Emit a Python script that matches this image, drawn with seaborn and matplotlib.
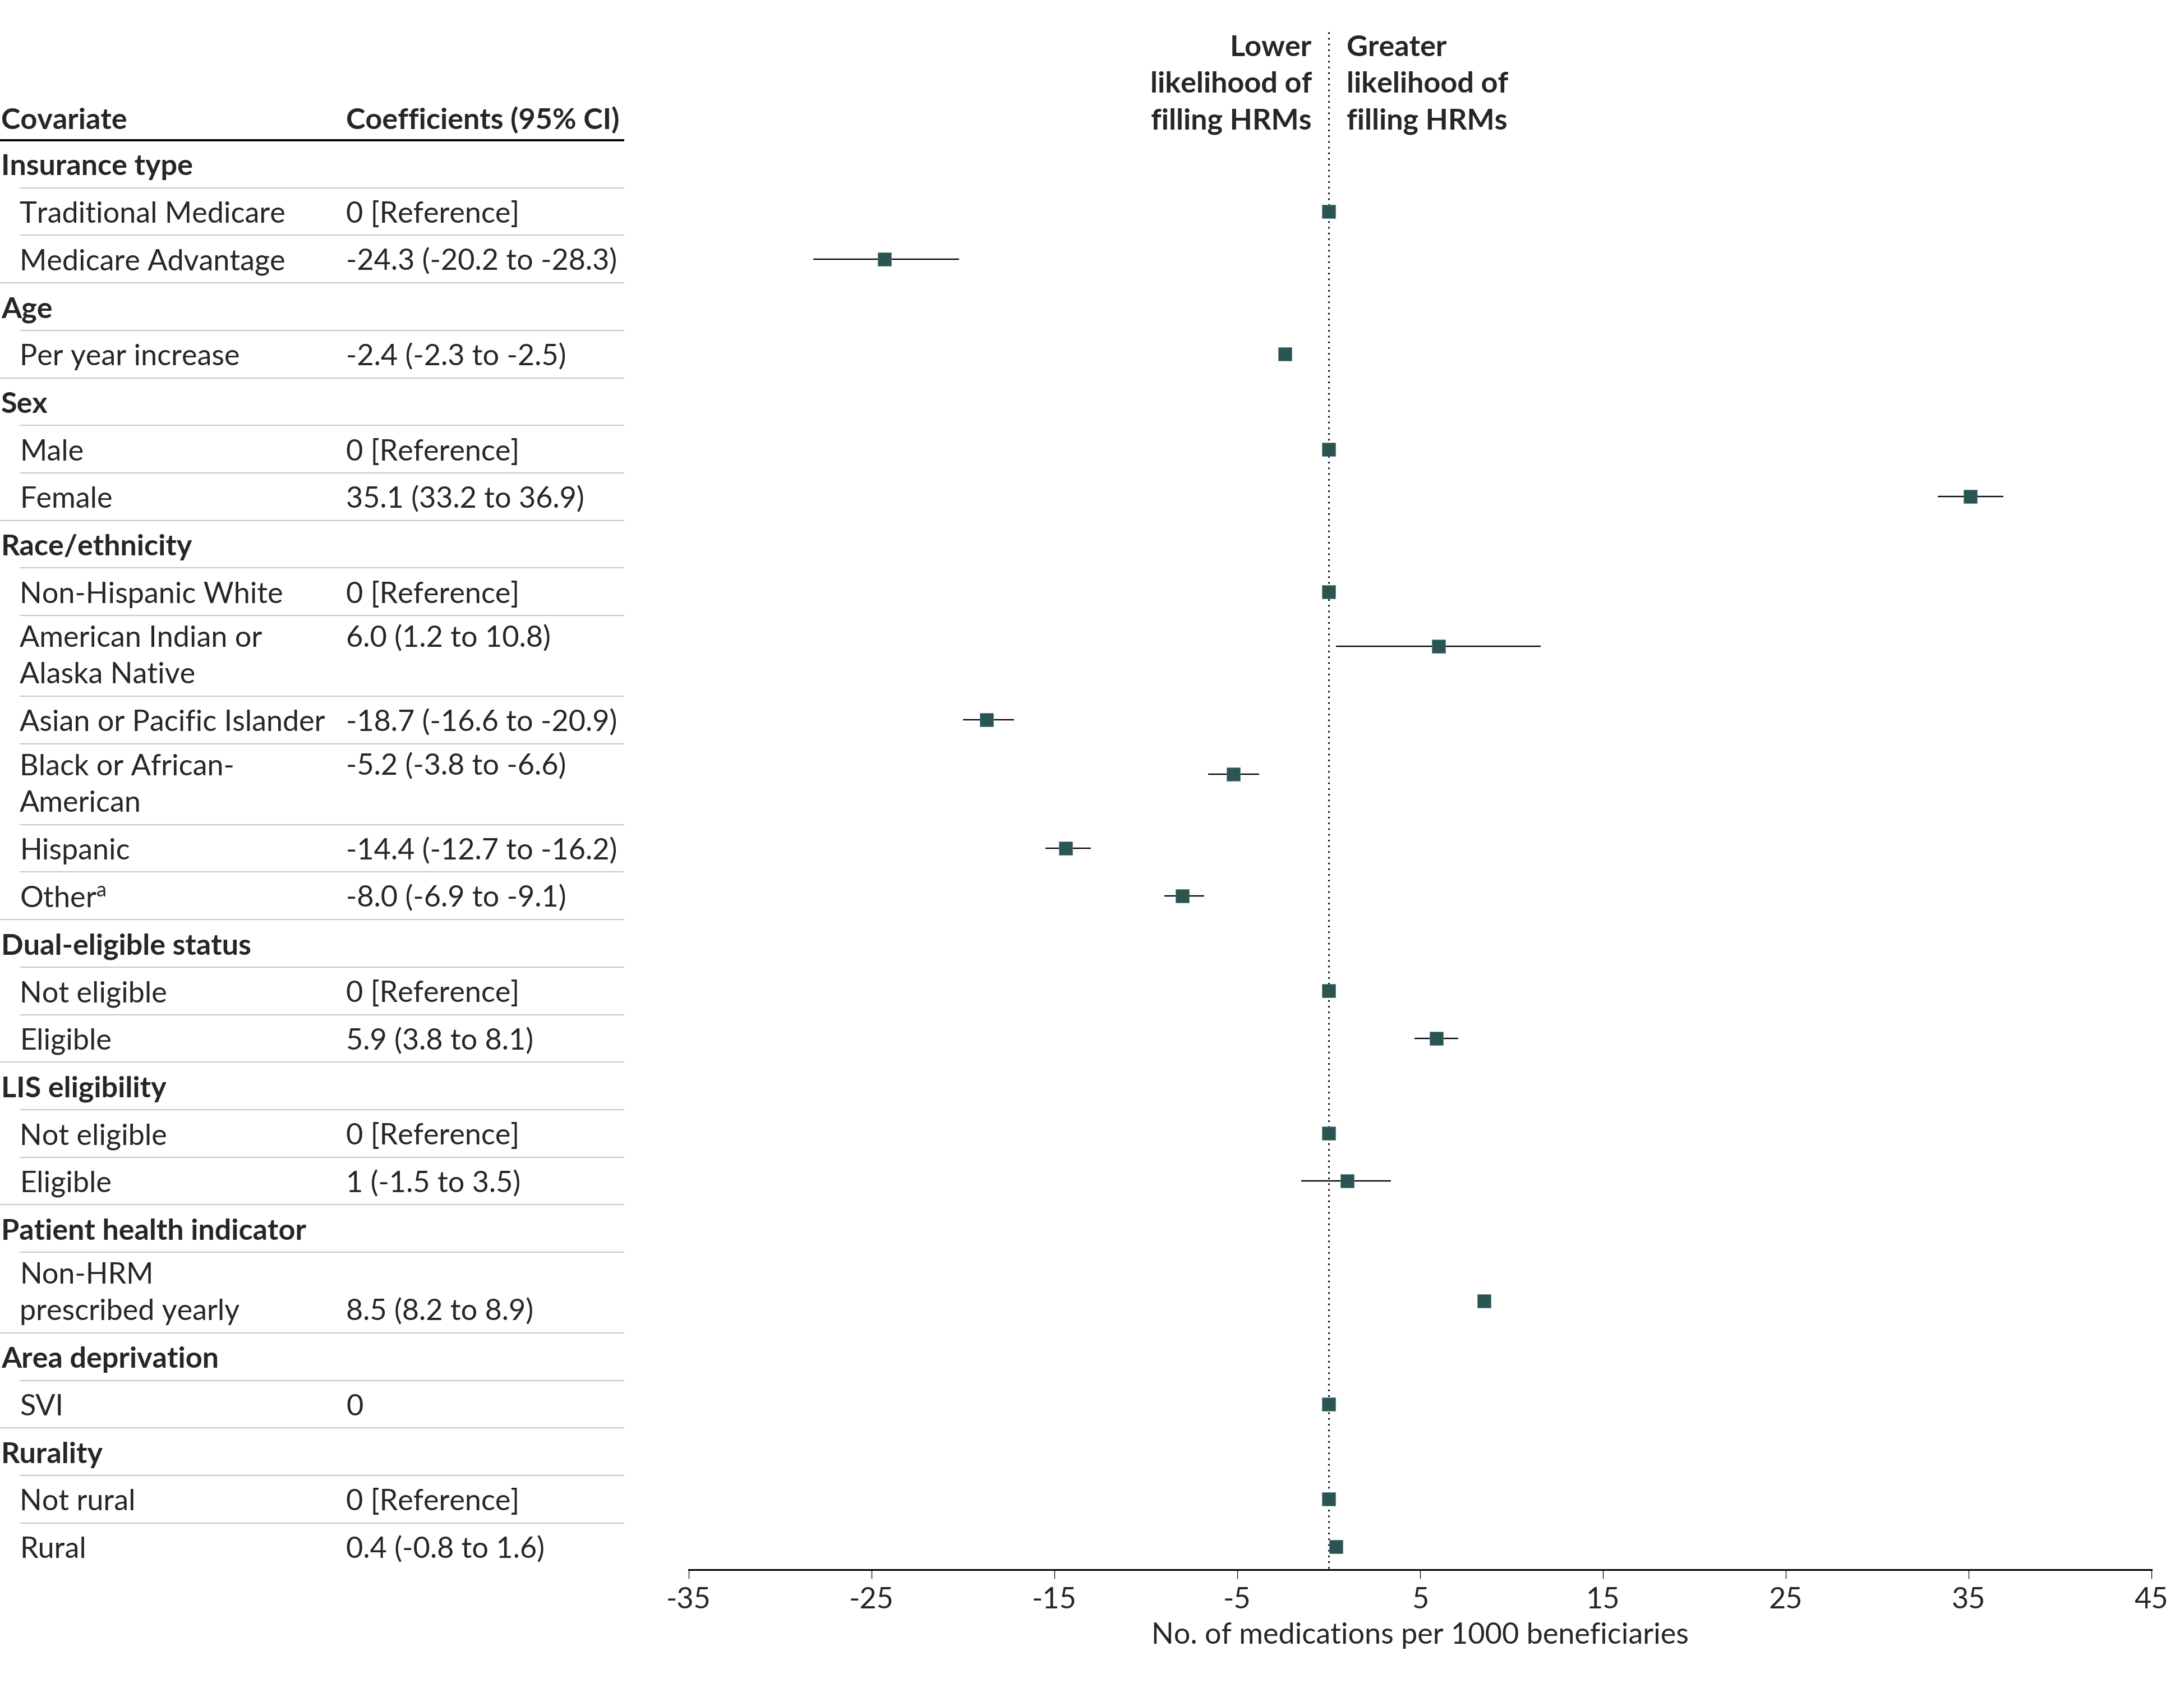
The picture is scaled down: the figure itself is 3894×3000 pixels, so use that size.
import numpy as np
import pandas as pd
import matplotlib
matplotlib.use("Agg")
import matplotlib.pyplot as plt
import seaborn as sns

# =============================================================================
# Data
# =============================================================================

labels = [
    "Insurance type", "Traditional Medicare", "Medicare Advantage",
    "Age", "Per year increase",
    "Sex", "Male", "Female",
    "Race/ethnicity", "Non-Hispanic White", "American Indian or\nAlaska Native",
    "Asian or Pacific Islander", "Black or African-\nAmerican", "Hispanic",
    "Other$^{\\mathrm{a}}$",
    "Dual-eligible status", "Not eligible", "Eligible",
    "LIS eligibility", "Not eligible", "Eligible",
    "Patient health indicator", "Non-HRM\nprescribed yearly",
    "Area deprivation", "SVI",
    "Rurality", "Not rural", "Rural",
]
is_heading = [
    True, False, False,
    True, False,
    True, False, False,
    True, False, False, False, False, False, False,
    True, False, False,
    True, False, False,
    True, False,
    True, False,
    True, False, False,
]
coef_text = [
    "", "0 [Reference]", "-24.3 (-20.2 to -28.3)",
    "", "-2.4 (-2.3 to -2.5)",
    "", "0 [Reference]", "35.1 (33.2 to 36.9)",
    "", "0 [Reference]", "6.0 (1.2 to 10.8)", "-18.7 (-16.6 to -20.9)",
    "-5.2 (-3.8 to -6.6)", "-14.4 (-12.7 to -16.2)", "-8.0 (-6.9 to -9.1)",
    "", "0 [Reference]", "5.9 (3.8 to 8.1)",
    "", "0 [Reference]", "1 (-1.5 to 3.5)",
    "", "8.5 (8.2 to 8.9)",
    "", "0",
    "", "0 [Reference]", "0.4 (-0.8 to 1.6)",
]
# which line of a two-line label carries the coefficient text
coef_line = [0] * len(labels)
coef_line[22] = 1

nan = np.nan
# point estimates and interval ends as drawn in the plot
estimate = [nan, 0, -24.3, nan, -2.4, nan, 0, 35.1, nan, 0, 6.0, -18.7, -5.2, -14.4, -8.0,
            nan, 0, 5.9, nan, 0, 1.0, nan, 8.5, nan, 0, nan, 0, 0.4]
ci_low = [nan, 0, -28.2, nan, -2.5, nan, 0, 33.3, nan, 0, 0.4, -20.0, -6.6, -15.5, -9.0,
          nan, 0, 4.7, nan, 0, -1.5, nan, 8.2, nan, 0, nan, 0, 0.3]
ci_high = [nan, 0, -20.2, nan, -2.3, nan, 0, 36.9, nan, 0, 11.6, -17.2, -3.8, -13.0, -6.8,
           nan, 0, 7.1, nan, 0, 3.4, nan, 8.8, nan, 0, nan, 0, 0.5]

x_ticks = [-35, -25, -15, -5, 5, 15, 25, 35, 45]
x_label = "No. of medications per 1000 beneficiaries"
left_note = ["Lower", "likelihood of", "filling HRMs"]
right_note = ["Greater", "likelihood of", "filling HRMs"]

# =============================================================================
# Style
# =============================================================================

sns.set_theme(style="white")
plt.rcParams["font.family"] = ["Lato", "DejaVu Sans"]
plt.rcParams["mathtext.fontset"] = "custom"
plt.rcParams["mathtext.rm"] = "Lato"
plt.rcParams["mathtext.it"] = "Lato:italic"
plt.rcParams["mathtext.bf"] = "Lato:bold"
plt.rcParams["axes.unicode_minus"] = False

FS = 37.5
MARK = "#2b5552"
SEP = "#c7cdbb"

# layout in pixels measured from the top of the figure
W, H = 3894, 3000
AX_L, AX_R, AX_B = 1228, 3836, 2798
RULE_Y = 250
ROW_1, ROW_2 = 84.7, 144.0
TABLE_R = 1113
COEF_X = 617

fig = plt.figure(figsize=(W / 100, H / 100), dpi=100)
ax = fig.add_axes([AX_L / W, 1 - AX_B / H, (AX_R - AX_L) / W, AX_B / H])
ax.set_ylim(AX_B, 0)
tax = fig.add_axes([0, 1 - AX_B / H, AX_L / W, AX_B / H])
tax.set_xlim(0, AX_L)
tax.set_ylim(AX_B, 0)
tax.axis("off")

# =============================================================================
# Table
# =============================================================================

n_lines = np.array([lab.count("\n") + 1 for lab in labels])
heights = np.where(n_lines == 1, ROW_1, ROW_2)
tops = RULE_Y + np.concatenate([[0], np.cumsum(heights)[:-1]])
centers = tops + heights / 2

tax.text(2, 230, "Covariate", fontsize=FS, fontweight="bold")
tax.text(COEF_X, 230, "Coefficients (95% CI)", fontsize=FS, fontweight="bold")
tax.hlines(RULE_Y, 0, TABLE_R, color="black", lw=2.8)

marker_y = []
for i, lab in enumerate(labels):
    parts = lab.split("\n")
    if len(parts) == 1:
        bases = [centers[i] + 20]
    else:
        bases = [tops[i] + 56, tops[i] + 121]
    x0 = 2 if is_heading[i] else 35
    weight = "bold" if is_heading[i] else "normal"
    for part, b in zip(parts, bases):
        tax.text(x0, b, part, fontsize=FS, fontweight=weight, va="baseline")
    cb = bases[coef_line[i]]
    if coef_text[i]:
        tax.text(COEF_X, cb, coef_text[i], fontsize=FS, va="baseline")
    if len(parts) == 1:
        marker_y.append(centers[i])
    else:
        marker_y.append((centers[i] + cb - 19) / 2)
    if i < len(labels) - 1:
        start = 0 if is_heading[i + 1] else 35
        tax.hlines(tops[i] + heights[i], start, TABLE_R, color=SEP, lw=1.5)

# =============================================================================
# Forest plot
# =============================================================================

df = pd.DataFrame({"est": estimate, "lo": ci_low, "hi": ci_high, "y": marker_y}).dropna()

ax.vlines(0, 57, AX_B, color="black", lw=2.1, linestyles=(0, (1, 2.5)), zorder=1)
ax.hlines(df["y"], df["lo"], df["hi"], color="black", lw=1.7, zorder=2)
sns.scatterplot(data=df, x="est", y="y", marker="s", s=300, color=MARK,
                edgecolor="#5f8a87", linewidth=0.6, zorder=3, ax=ax, legend=False)

for k, (lt, rt) in enumerate(zip(left_note, right_note)):
    yb = 100 + 65 * k
    ax.annotate(lt, (0, yb), xytext=(-21.6, 0), textcoords="offset points",
                ha="right", va="baseline", fontsize=FS, fontweight="bold")
    ax.annotate(rt, (0, yb), xytext=(23, 0), textcoords="offset points",
                ha="left", va="baseline", fontsize=FS, fontweight="bold")

ax.set_xlim(-35, 45)
ax.set_ylim(AX_B, 0)
ax.set_xticks(x_ticks)
ax.set_xticklabels([str(t) for t in x_ticks])
ax.set_yticks([])
ax.set_xlabel(x_label, fontsize=FS, labelpad=11)
ax.set_ylabel("")
ax.tick_params(axis="x", bottom=True, length=11.5, width=0.9, pad=11,
               labelsize=FS, color="black", direction="out")
for side in ["top", "right", "left"]:
    ax.spines[side].set_visible(False)
ax.spines["bottom"].set_linewidth(2.2)
ax.spines["bottom"].set_color("black")
ax.patch.set_alpha(0)

fig.savefig("out.png", dpi=100, facecolor="white")
